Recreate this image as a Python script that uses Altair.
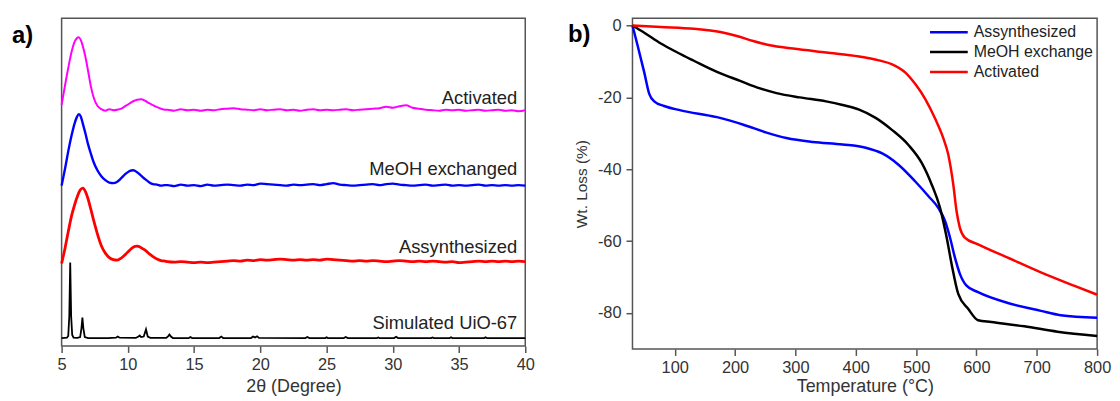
import altair as alt
import pandas as pd

# ---------------- Panel a: XRD patterns (intensity in arbitrary, offset units) ----------------
peak_x = [5.0, 5.25, 5.5, 5.75, 6.0, 6.15, 6.3, 6.45, 6.6, 6.8, 7.0, 7.2, 7.45, 7.7, 8.0,
          8.3, 8.6, 8.9, 9.2, 9.5, 9.8, 10.1, 10.4, 10.7, 11.0, 11.3, 11.6, 11.9, 12.2, 12.5, 12.8]
base_x = [13.0, 13.5, 14.0, 14.5, 15.0, 15.5, 16.0, 16.5, 17.0, 17.5,
          18.0, 18.5, 19.0, 19.5, 20.0, 20.5, 21.0, 21.5, 22.0, 22.5,
          23.0, 23.5, 24.0, 24.5, 25.0, 25.5, 26.0, 26.5, 27.0, 27.5,
          28.0, 28.5, 29.0, 29.5, 30.0, 30.5, 31.0, 31.5, 32.0, 32.5,
          33.0, 33.5, 34.0, 34.5, 35.0, 35.5, 36.0, 36.5, 37.0, 37.5,
          38.0, 38.5, 39.0, 39.5, 40.0]

activated_peak = [243, 262, 280, 296, 307, 310, 311, 308, 302, 291, 277, 262, 249, 242, 238.5,
                  237, 238.5, 237.5, 238, 239, 241.5, 244, 246.5, 248, 248.5, 247, 244.5, 242.5, 240.5, 239, 238]
activated_base = [238, 237, 238.5, 237.5, 238, 237, 238, 237.5, 238.5, 239,
                  239.5, 238.5, 238, 237.5, 238.5, 237.5, 238, 238.5, 237.5, 238,
                  237, 238, 238.5, 237.5, 238, 237.5, 238, 238.5, 237.5, 238,
                  238.5, 239, 239.5, 241, 240, 241.5, 242.5, 240, 239, 238,
                  237.5, 237, 238, 237.5, 238, 237, 237.5, 238, 237, 237.5,
                  238, 237, 237.5, 236.5, 237.5]

meoh_peak = [161.5, 178, 196, 212, 225, 230.5, 233.5, 231, 224, 214, 203, 194, 184, 177, 171,
             167, 164.5, 164, 165.5, 169, 173, 176, 177, 175, 171.5, 168, 165, 163, 162.5, 161.5, 162]
meoh_base = [162, 161, 162.5, 161.5, 162, 161, 162.5, 161.5, 162, 162.5,
             162, 161.5, 162.5, 162, 163.5, 163, 162.5, 162, 161.5, 162.5,
             162, 162.5, 163, 162, 163, 164, 162.5, 162, 161.5, 162,
             162.5, 163, 162, 163, 163.5, 162.5, 162, 161.5, 162, 162.5,
             161.5, 162, 162.5, 161.5, 162, 161.5, 162, 162.5, 161.5, 162,
             161.5, 162, 161.5, 162, 161.5]

assyn_peak_x = [5.0, 5.25, 5.5, 5.75, 6.0, 6.2, 6.4, 6.6, 6.8, 7.0, 7.2, 7.45, 7.7, 8.0,
                8.3, 8.6, 8.9, 9.2, 9.5, 9.8, 10.1, 10.4, 10.7, 11.0, 11.3, 11.6, 11.9, 12.2, 12.5, 12.8]
assyn_peak = [83, 98, 115, 131, 143, 151, 157, 159, 155.5, 148, 138, 125, 113, 101,
              93.5, 89, 87, 86.5, 88.5, 92, 96, 99.5, 100.5, 99, 96.5, 93, 90, 87.5, 86, 85.5]
assyn_base = [85, 84.5, 85, 84.5, 84, 84.5, 84, 84.5, 85, 85.5,
              86, 85.5, 86.5, 86, 87, 86.5, 87, 87.5, 87, 86.5,
              87, 86.5, 87, 86.5, 87.5, 87, 86.5, 86, 85.5, 86,
              85.5, 86, 85.5, 85, 85.5, 86, 85.5, 85, 85.5, 85,
              85.5, 85, 84.5, 85, 84, 84.5, 85, 85.5, 85, 85.5,
              85, 85.5, 85, 85.5, 85]

sim_x = [5.0, 5.4, 5.5, 5.58, 5.65, 5.72, 5.8, 5.9, 6.2, 6.4, 6.5, 6.57, 6.64, 6.75, 7.0,
         8.5, 9.1, 9.24, 9.38, 10.6, 10.8, 10.9, 11.0, 11.2, 11.37, 11.5, 11.7, 12.9, 13.05,
         13.14, 13.25, 13.4, 14.6, 14.72, 14.85, 16.9, 17.05, 17.2, 19.3, 19.45, 19.6, 19.75,
         19.9, 23.4, 23.55, 23.7, 24.9, 25.0, 25.1, 26.3, 26.45, 26.6, 28.8, 28.9, 29.0, 30.1,
         30.25, 30.4, 32.9, 33.0, 33.1, 34.3, 34.4, 34.5, 36.9, 37.0, 37.1, 40.0]
sim_y = [8, 8.3, 10, 30, 84, 30, 11, 8.5, 8.2, 9, 18, 28.5, 18, 9, 8,
         8, 8.3, 9.5, 8.3, 8.1, 9.5, 10.5, 9, 9.5, 16.7, 9.5, 8.2, 8.1, 10,
         11.5, 9.5, 8, 8, 9, 8, 8, 9.5, 8, 8, 9.5, 8.6, 9.8,
         8.2, 8, 9, 8, 8, 8.8, 8, 8, 9, 8, 8, 8.6, 8, 8,
         9.3, 8, 8, 8.6, 8, 8, 8.7, 8, 8, 8.8, 8, 8]

xrd_names = ["Activated", "MeOH exchanged", "Assynthesized"]
xrd_colors = ["#ff00ff", "#0000ff", "#ff0000"]
xrd_widths = [2, 2.8, 2]

label_text = ["Activated", "MeOH exchanged", "Assynthesized", "Simulated UiO-67"]
label_x = [39.4, 39.4, 39.4, 39.4]
label_y = [250, 178, 100, 23]

# ---------------- Panel b: TGA ----------------
assyn_T = [30, 38.7, 49.6, 57.8, 66, 82.5, 109.9, 170, 213.9, 252.2, 285.1, 328.9, 378.2, 416.5,
           443.9, 471.3, 498.7, 520.6, 537, 548, 556.2, 564.4, 572.6, 583.6, 602.7, 652, 706.8, 739.6, 800]
assyn_W = [0, -5.7, -13.1, -19, -21.1, -22.4, -23.6, -25.5, -27.6, -29.8, -31.3, -32.4, -33.1, -34,
           -35.6, -38.8, -43.4, -47.5, -50.8, -54.4, -59, -64.6, -69.1, -72.4, -74.2, -77.2, -79.4, -80.6, -81.3]
meoh_T = [30, 49.6, 77, 104.4, 131.8, 170, 208.4, 241.3, 268.7, 307, 350.8, 378.2, 405.6, 433,
          460.4, 487.7, 509.6, 526, 539.8, 550.7, 558.9, 569.9, 586.3, 602.7, 624.6, 679.4, 734.2, 800]
meoh_W = [0, -2, -5, -7.5, -9.8, -12.9, -15.4, -17.5, -18.8, -20, -21.1, -22.1, -23.4, -25.7,
          -29.1, -33.3, -38.3, -44.3, -50.8, -59, -66.4, -74.7, -78.8, -82, -82.5, -83.7, -85.2, -86.4]
act_T = [30, 77, 132, 175.6, 203, 230, 257.7, 296, 350.8, 405.6, 438.4, 460.4, 482.3, 498.7,
         515, 531.5, 545.2, 553.5, 561.7, 567.1, 572.6, 580.8, 602.7, 652, 706.8, 761.6, 800]
act_W = [0, -0.4, -0.9, -1.8, -2.9, -4.3, -5.5, -6.4, -7.5, -8.6, -9.7, -10.8, -13.1, -16.3,
         -20.4, -25.9, -31.4, -36, -44.3, -51.7, -56.3, -59, -60.9, -64.6, -68.7, -72.4, -74.9]

tga_names = ["Assynthesized", "MeOH exchange", "Activated"]
tga_colors = ["#0000ff", "#000000", "#ff0000"]

FONT = "Liberation Sans"

# ---------- build tables ----------
rows = []
for name, xs, ys in [
    ("Activated", peak_x + base_x, activated_peak + activated_base),
    ("MeOH exchanged", peak_x + base_x, meoh_peak + meoh_base),
    ("Assynthesized", assyn_peak_x + base_x, assyn_peak + assyn_base),
]:
    for i, (xv, yv) in enumerate(zip(xs, ys)):
        rows.append({"pattern": name, "tt": xv, "I": yv, "i": i})
df_xrd = pd.DataFrame(rows)
df_sim = pd.DataFrame({"tt": sim_x, "I": sim_y, "i": list(range(len(sim_x)))})
df_lab = pd.DataFrame({"t": label_text, "tt": label_x, "I": label_y})

trows = []
for name, xs, ys in [("Assynthesized", assyn_T, assyn_W),
                     ("MeOH exchange", meoh_T, meoh_W),
                     ("Activated", act_T, act_W)]:
    for i, (xv, yv) in enumerate(zip(xs, ys)):
        trows.append({"sample": name, "T": xv, "W": yv, "i": i})
df_tga = pd.DataFrame(trows)

xa = alt.X("tt:Q", scale=alt.Scale(domain=[5, 40], nice=False, zero=False),
           axis=alt.Axis(values=[5, 10, 15, 20, 25, 30, 35, 40], title="2θ (Degree)",
                         format="d", domain=False, titlePadding=5))
ya = alt.Y("I:Q", scale=alt.Scale(domain=[0, 330], nice=False), axis=None)

xrd_lines = alt.Chart(df_xrd).mark_line(interpolate="monotone").encode(
    x=xa, y=ya,
    color=alt.Color("pattern:N", scale=alt.Scale(domain=xrd_names, range=xrd_colors), legend=None),
    strokeWidth=alt.StrokeWidth("pattern:N", scale=alt.Scale(domain=xrd_names, range=xrd_widths), legend=None),
    order="i:Q",
)
sim_line = alt.Chart(df_sim).mark_line(color="black", strokeWidth=1.8).encode(x=xa, y=ya, order="i:Q")
labels_a = alt.Chart(df_lab).mark_text(align="right", baseline="middle", fontSize=18.5, font=FONT,
                                       color="#222222").encode(x=xa, y=ya, text="t:N")
tag_a = alt.Chart(pd.DataFrame({"t": ["a)"]})).mark_text(
    align="left", baseline="middle", fontSize=24, fontWeight="bold", font=FONT, color="black"
).encode(x=alt.value(-50), y=alt.value(18), text="t:N")

panel_a = alt.layer(xrd_lines, sim_line, labels_a, tag_a).properties(width=467, height=330)

xb = alt.X("T:Q", scale=alt.Scale(domain=[30, 800], nice=False, zero=False),
           axis=alt.Axis(values=[100, 200, 300, 400, 500, 600, 700, 800], title="Temperature (°C)",
                         domain=False, titlePadding=2))
yb = alt.Y("W:Q", scale=alt.Scale(domain=[-90, 2], nice=False, zero=False),
           axis=alt.Axis(values=[0, -20, -40, -60, -80], title="Wt. Loss (%)", domain=False,
                         labelExpr="'' + datum.value", tickSize=6.5, labelPadding=5,
                         titlePadding=8, titleFontSize=15.5))

tga_lines = alt.Chart(df_tga).mark_line(interpolate="monotone", strokeWidth=2.5).encode(
    x=xb, y=yb,
    color=alt.Color("sample:N", scale=alt.Scale(domain=tga_names, range=tga_colors),
                    legend=alt.Legend(title=None, orient="none", legendX=310.7, legendY=6,
                                      symbolType="M-3.8,0H3.8", symbolSize=100,
                                      symbolStrokeWidth=2.5, labelFontSize=16, labelFont=FONT,
                                      labelColor="#222222", labelOffset=17, rowPadding=4,
                                      padding=0)),
    order="i:Q",
)
tag_b = alt.Chart(pd.DataFrame({"t": ["b)"]})).mark_text(
    align="left", baseline="middle", fontSize=24, fontWeight="bold", font=FONT, color="black"
).encode(x=alt.value(-65), y=alt.value(17), text="t:N")

panel_b = alt.layer(tga_lines, tag_b).properties(width=468, height=333)

chart = alt.hconcat(panel_a, panel_b, spacing=32).resolve_scale(
    color="independent", strokeWidth="independent"
).properties(
    padding={"left": 3, "top": 7, "right": 0, "bottom": 0},
    background="white",
).configure_view(stroke="#555555", strokeWidth=1.5).configure_axis(
    labelFont=FONT, labelFontSize=16.5, labelColor="#333333",
    titleFont=FONT, titleFontSize=18, titleFontWeight="normal", titleColor="#333333",
    tickColor="#555555", tickSize=6.5, tickWidth=1.5, labelPadding=4,
    grid=False, labelFlush=False, labelOverlap=False,
)

chart.save("out.html", embed_options={"renderer": "svg", "actions": False})
